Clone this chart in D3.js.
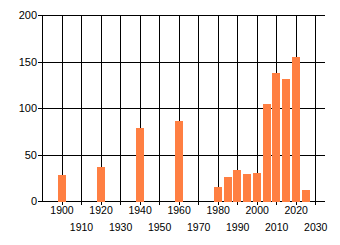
<!DOCTYPE html>
<html><head><meta charset="utf-8">
<script src="https://cdn.jsdelivr.net/npm/d3@7"></script>
<style>body{margin:0;background:#fff}svg{display:block}</style>
</head><body>
<svg id="c" width="340" height="245"></svg>
<script>
const years = [1900,1920,1940,1960,1980,1985,1990,1995,2000,2005,2010,2015,2020,2025];
const values = [28,37,78,86,15,26,33,29,30,104,138,131,155,12];
const xTicks = [1900,1910,1920,1930,1940,1950,1960,1970,1980,1990,2000,2010,2020,2030];
const yTicks = [0,50,100,150,200];

const svg = d3.select("#c");
const x = d3.scaleLinear().domain([1890,2035]).range([42,325]);
const y = d3.scaleLinear().domain([0,200]).range([201,15]);
const px = v => Math.round(v) + 0.5;

// horizontal gridlines
svg.append("g").selectAll("line").data(yTicks).join("line")
  .attr("x1", 38).attr("x2", 325)
  .attr("y1", d => px(y(d))).attr("y2", d => px(y(d)))
  .attr("stroke", "#000").attr("shape-rendering","crispEdges");
// vertical gridlines
svg.append("g").selectAll("line").data(xTicks).join("line")
  .attr("x1", d => px(x(d))).attr("x2", d => px(x(d)))
  .attr("y1", y(200)).attr("y2", y(0) + 4)
  .attr("stroke", "#000").attr("shape-rendering","crispEdges");
// y axis line
svg.append("line").attr("x1", px(x(1890))).attr("x2", px(x(1890)))
  .attr("y1", y(200)).attr("y2", y(0)+1).attr("stroke","#000").attr("shape-rendering","crispEdges");

// bars
const bw = x(1894) - x(1890);
svg.append("g").selectAll("rect").data(years).join("rect")
  .attr("x", (d) => Math.round(x(d) - bw/2))
  .attr("width", Math.round(bw))
  .attr("y", (d,i) => Math.round(y(values[i])))
  .attr("height", (d,i) => Math.round(y(0)) - Math.round(y(values[i])) + 1)
  .attr("fill", "#ff7f42");

// y labels
svg.append("g").selectAll("text").data(yTicks).join("text")
  .attr("x", 37).attr("y", d => y(d) + 4)
  .attr("text-anchor","end")
  .attr("font-family","Liberation Sans, Arial, sans-serif")
  .attr("font-size", 11).attr("fill","#000")
  .text(d => d);

// x labels (staggered)
svg.append("g").selectAll("text").data(xTicks).join("text")
  .attr("x", d => x(d) + 0.5)
  .attr("y", (d,i) => i % 2 === 0 ? 214 : 231)
  .attr("text-anchor","middle")
  .attr("font-family","Liberation Sans, Arial, sans-serif")
  .attr("font-size", 10.5).attr("fill","#000")
  .text(d => d);
</script>
</body></html>
